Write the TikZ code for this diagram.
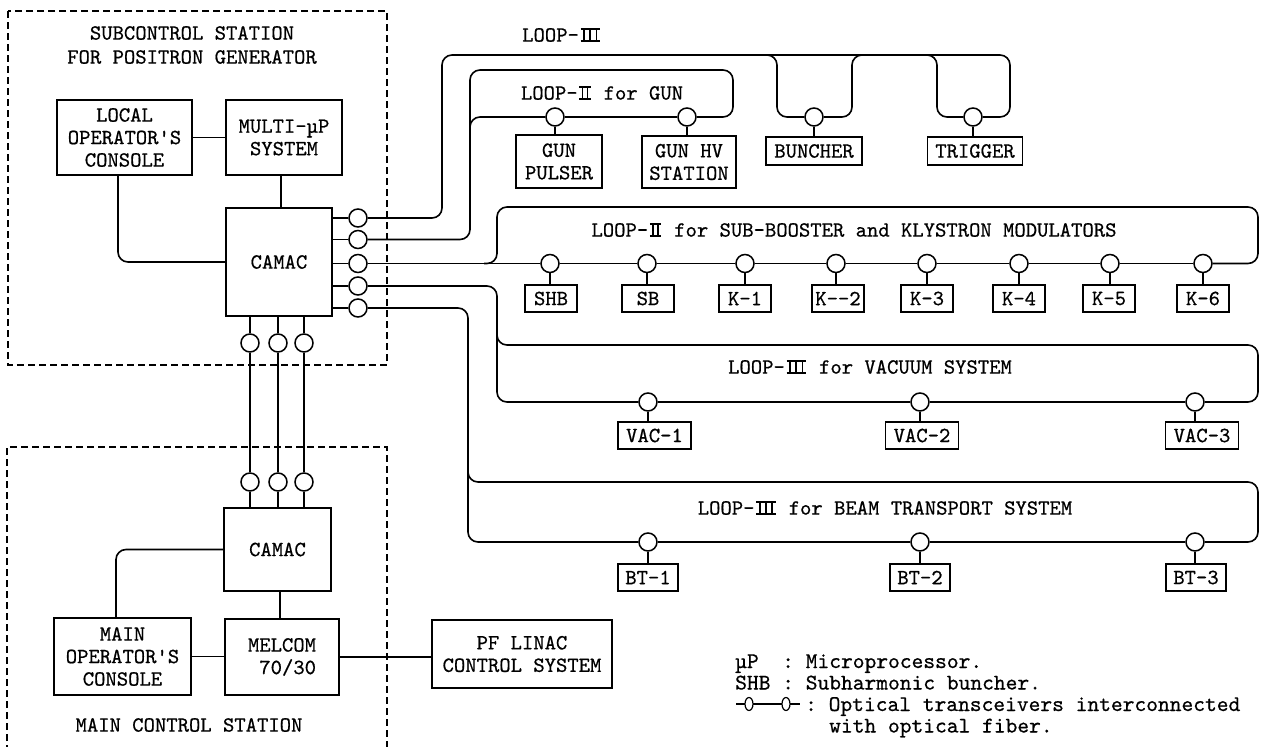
\documentclass[tikz,border=0pt]{standalone}
\usepackage{fontspec}
\setmonofont[FakeBold=0.6]{lmmono10-regular.otf}
\newcommand\dfont{\fontsize{21.6}{22.5}\selectfont\ttfamily}
\newcommand\gfont{\fontsize{22.4}{21}\selectfont\ttfamily}
\newcommand\stm{\vrule width0.08em height0.50em depth0pt}
\newcommand\romn[2]{\hbox{\kern0.08em\vbox{\hrule width#1 height0.06em\hbox to #1{#2}\hrule width#1 height0.06em}\kern0.08em}}
\newcommand\RII{\romn{0.52em}{\kern0.1em\stm\hfil\stm\kern0.1em}}
\newcommand\RIII{\romn{0.90em}{\kern0.12em\stm\hfil\stm\hfil\stm\kern0.12em}}
\tikzset{
  wire/.style={line width=1.6pt},
  rc/.style={rounded corners=10pt},
  blk/.style={draw, line width=1.7pt, align=center, inner sep=0pt, font=\dfont},
  sbox/.style={blk, minimum height=27pt, minimum width=52pt},
  tr/.style={circle, draw, line width=1.5pt, fill=white, minimum size=18pt, inner sep=0pt},
  lbl/.style={font=\dfont, inner sep=0pt},
  frame/.style={line width=1.1pt, dash pattern=on 7pt off 4pt},
}
\begin{document}
\begin{tikzpicture}[x=1pt,y=-1pt]
\useasboundingbox (0,0) rectangle (1262,747);

% dashed stations
\draw[frame] (8,11) rectangle (387,365);
\draw[frame] (7,752) -- (7,447) -- (387,447) -- (387,752);

% subcontrol station
\node[lbl, align=center, font=\fontsize{21.6}{24}\selectfont\ttfamily] (subt) at (192,45) {SUBCONTROL STATION\\FOR POSITRON GENERATOR};
\node[blk, minimum width=135pt, minimum height=75pt] (localc) at (124.5,137.5) {LOCAL\\OPERATOR'S\\CONSOLE};
\node[blk, minimum width=116pt, minimum height=75pt] (multi) at (284,137.5) {MULTI-µP\\SYSTEM};
\node[blk, minimum width=106pt, minimum height=108pt] (camac1) at (279,262) {CAMAC};
\draw[wire] (localc.east) -- (multi.west);
\draw[wire] ([xshift=-3pt]multi.south) -- ([xshift=-3pt]multi.south |- camac1.north);
\draw[wire, rc] ([xshift=-6.5pt]localc.south) |- (camac1.west);

% transceivers at CAMAC
\node[tr] (tA) at (358,218) {};
\node[tr] (tB) at (358,239.5) {};
\node[tr] (tC) at (358,263.5) {};
\node[tr] (tD) at (358,286) {};
\node[tr] (tE) at (358,308) {};
\foreach \t in {tA,tB,tC,tD,tE} \draw[wire] (\t.west) -- (\t.west -| camac1.east);

% vertical link
\node[tr] (bA) at (250,343) {};
\node[tr] (bB) at (278,343) {};
\node[tr] (bC) at (304,343) {};
\node[tr] (lA) at (250,482) {};
\node[tr] (lB) at (278,482) {};
\node[tr] (lC) at (304,482) {};

% main control station
\node[blk, minimum width=107pt, minimum height=83pt] (camac2) at (277.5,549.5) {CAMAC};
\node[blk, minimum width=137pt, minimum height=77pt] (mainc) at (122.5,656.5) {MAIN\\OPERATOR'S\\CONSOLE};
\node[blk, minimum width=114pt, minimum height=76pt, align=right] (melcom) at (282,657) {MELCOM\\70/30};
\node[lbl] (mcs) at (189,725) {MAIN CONTROL STATION};
\node[blk, minimum width=180pt, minimum height=68pt] (pf) at (522,654) {PF LINAC\\CONTROL SYSTEM};

\foreach \u/\l in {bA/lA,bB/lB,bC/lC}{
  \draw[wire] (\u.north) -- (\u.north |- camac1.south);
  \draw[wire] (\u.south) -- (\l.north);
  \draw[wire] (\l.south) -- (\l.south |- camac2.north);
}
\draw[wire] ([xshift=2.5pt]camac2.south) -- ([xshift=2.5pt]camac2.south |- melcom.north);
\draw[wire] (mainc.east) -- (mainc.east -| melcom.west);
\draw[wire, rc] ([xshift=-6.5pt]mainc.north) |- (camac2.west);
\draw[wire] (melcom.east) -- (melcom.east -| pf.west);

% ---------- LOOP-III (top) ----------
\node[lbl] (l3top) at (562,35) {LOOP-\RIII};
\node[tr] (cBUN) at (814,117) {};
\node[tr] (cTRG) at (973,117) {};
\node[sbox, minimum width=96pt, minimum height=28pt] (bBUN) at (814,151) {BUNCHER};
\node[sbox, minimum width=95pt, minimum height=28pt] (bTRG) at (975,151) {TRIGGER};
\coordinate (T1) at (442,55);
\coordinate (T2) at (1010,55);
\coordinate (T3) at (937,55);
\coordinate (T3b) at (925,55);
\coordinate (B1) at (777,55);
\coordinate (B1b) at (765,55);
\coordinate (B2) at (852,55);
\coordinate (B2b) at (864,55);
\draw[wire, rc] (tA.east) -| (T1) -- (T2) |- (cTRG.east);
\draw[wire, rc] (cTRG.west) -| (T3) -- (T3b);
\draw[wire, rc] (cBUN.west) -| (B1) -- (B1b);
\draw[wire, rc] (cBUN.east) -| (B2) -- (B2b);

% ---------- LOOP-II for GUN ----------
\node[lbl] (l2gun) at (602,93) {LOOP-\RII{} for GUN};
\node[tr] (cGP) at (555,117) {};
\node[tr] (cGHV) at (687,117) {};
\node[blk, minimum width=86pt, minimum height=53pt] (bGP) at (559,161.5) {GUN\\PULSER};
\node[blk, minimum width=94pt, minimum height=52pt] (bGHV) at (689,162) {GUN HV\\STATION};
\coordinate (G1) at (470,70);
\coordinate (G2) at (733,70);
\coordinate (G3) at (470,134);
\draw[wire, rc] (tB.east) -| (G1) -- (G2) |- (cGHV.east);
\draw[wire] (cGHV.west) -- (cGP.east);
\draw[wire, rc] (cGP.west) -| (G3);

% stubs for top devices
\foreach \c/\b in {cBUN/bBUN,cTRG/bTRG,cGP/bGP,cGHV/bGHV}
  \draw[wire] (\c.south) -- (\c.south |- \b.north);

% ---------- LOOP-II for SUB-BOOSTER ----------
\node[lbl] (l2sb) at (854,230) {LOOP-\RII{} for SUB-BOOSTER and KLYSTRON MODULATORS};
\foreach \n/\x/\bx/\t in {SHB/550/551/SHB, SB/647/648/SB, K1/745/745/K-1, K2/836/838/K--2, K3/927/927/K-3, K4/1019/1019/K-4, K5/1110/1109/K-5, K6/1203/1203/K-6}{
  \node[tr] (c\n) at (\x,263.5) {};
  \node[sbox] (b\n) at (\bx,298.5) {\t};
  \draw[wire] (c\n.south) -- (c\n.south |- b\n.north);
}
\draw[wire] (tC.east) -- (cSHB.west);
\foreach \a/\b in {SHB/SB,SB/K1,K1/K2,K2/K3,K3/K4,K4/K5,K5/K6}
  \draw[wire] (c\a.east) -- (c\b.west);
\coordinate (S1) at (1258,207);
\coordinate (S2) at (497,207);
\coordinate (S3) at (484,263.5);
\draw[wire, rc] (cK6.east) -| (S1) -- (S2) |- (S3);

% ---------- LOOP-III for VACUUM ----------
\node[lbl] (l3vac) at (870,367) {LOOP-\RIII{} for VACUUM SYSTEM};
\foreach \n/\x/\bx/\t in {V1/648/654.5/VAC-1, V2/920/922/VAC-2, V3/1195/1202/VAC-3}{
  \node[tr] (c\n) at (\x,402) {};
  \node[sbox, minimum width=73pt] (b\n) at (\bx,435.5) {\t};
  \draw[wire] (c\n.south) -- (c\n.south |- b\n.north);
}
\coordinate (VA) at (497,402);
\coordinate (VB) at (497,331);
\coordinate (VC) at (1258,345);
\draw[wire, rc] (tD.east) -| (VA) -- (cV1.west);
\draw[wire] (cV1.east) -- (cV2.west);
\draw[wire] (cV2.east) -- (cV3.west);
\draw[wire, rc] (VB) |- (VC) |- (cV3.east);

% ---------- LOOP-III for BEAM TRANSPORT ----------
\node[lbl] (l3bt) at (885,508) {LOOP-\RIII{} for BEAM TRANSPORT SYSTEM};
\foreach \n/\x/\bx/\t in {T1/648/648/BT-1, T2/920/920/BT-2, T3/1195/1196/BT-3}{
  \node[tr] (c\n) at (\x,542) {};
  \node[sbox, minimum width=60pt] (b\n) at (\bx,577.5) {\t};
  \draw[wire] (c\n.south) -- (c\n.south |- b\n.north);
}
\coordinate (WA) at (468,542);
\coordinate (WB) at (468,470);
\coordinate (WC) at (1258,482);
\draw[wire, rc] (tE.east) -| (WA) -- (cT1.west);
\draw[wire] (cT1.east) -- (cT2.west);
\draw[wire] (cT2.east) -- (cT3.west);
\draw[wire, rc] (WB) |- (WC) |- (cT3.east);

% ---------- legend ----------
\node[lbl, font=\gfont, anchor=base west] (lg1) at (735,668) {µP~~: Microprocessor.};
\node[lbl, font=\gfont, anchor=base west] (lg2) at (735,689.5) {SHB~: Subharmonic buncher.};
\node[lbl, font=\gfont, anchor=base west] (lg3) at (805,711) {: Optical transceivers interconnected};
\node[lbl, font=\gfont, anchor=base west] (lg4) at (829,732.5) {with optical fiber.};
\draw[line width=1.2pt] (736,704) -- (800,704);
\draw[line width=1.2pt, fill=white] (749,704) ellipse [x radius=4pt, y radius=6.5pt];
\draw[line width=1.2pt, fill=white] (786,704) ellipse [x radius=4pt, y radius=6.5pt];
\end{tikzpicture}
\end{document}
